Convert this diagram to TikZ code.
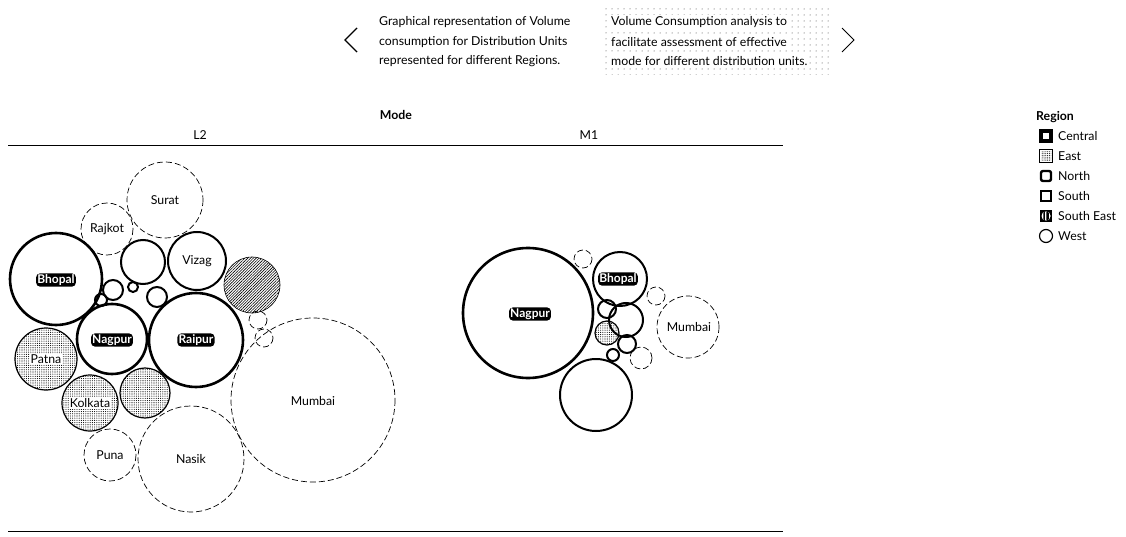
\documentclass[tikz,border=0pt]{standalone}
\usepackage{fontspec}
\setmainfont{Lato}
\usetikzlibrary{patterns,patterns.meta}
\begin{document}
\begin{tikzpicture}[x=1pt,y=-1pt,
  central/.style={draw=black,line width=2.6pt},
  northc/.style={draw=black,line width=2pt},
  westc/.style={draw=black,line width=0.7pt,dash pattern=on 6pt off 3pt},
  eastc/.style={draw=black,line width=1.2pt,pattern={Dots[distance=2.2pt,radius=0.55pt]},pattern color=black},
  seastc/.style={draw=black,line width=0.6pt,pattern={Lines[angle=45,distance=2pt,line width=0.6pt]},pattern color=black},
  lbl/.style={font=\fontsize{12.3}{14}\selectfont,inner sep=1pt},
  blbl/.style={font=\fontsize{12}{14}\selectfont\bfseries,text=white,fill=black,rounded corners=4pt,inner sep=1.2pt},
  txt/.style={font=\fontsize{12.3}{14}\selectfont,anchor=west,inner sep=0pt},
  hdr/.style={font=\fontsize{12.3}{14}\selectfont\bfseries,inner sep=0pt},
  chev/.style={line width=1.4pt,line join=miter},
  legsq/.style={draw=black,line width=2.4pt,minimum size=10pt,inner sep=0pt}]
\useasboundingbox (0,0) rectangle (1126,537);

% ---------- top texts ----------
\coordinate (p1) at (357,28); \coordinate (p2) at (345,40); \coordinate (p3) at (357,52);
\draw[chev] (p1) -- (p2) -- (p3);
\node[txt] (t1) at (379,22) {Graphical representation of Volume};
\node[txt] (t2) at (379,42) {consumption for Distribution Units};
\node[txt] (t3) at (379,61) {represented for different Regions.};
\fill[pattern={Dots[distance=6pt,radius=0.5pt]},pattern color=black!80] (603,6) rectangle (829,75);
\node[txt,fill=white,inner sep=1pt] (t4) at (610,22) {Volume Consumption analysis to};
\node[txt,fill=white,inner sep=1pt] (t5) at (610,42) {facilitate assessment of effective};
\node[txt,fill=white,inner sep=1pt] (t6) at (610,61) {mode for different distribution units.};
\coordinate (n1) at (842,28); \coordinate (n2) at (854,40); \coordinate (n3) at (842,52);
\draw[chev,line width=1pt] (n1) -- (n2) -- (n3);

% ---------- headers ----------
\node[hdr] (mode) at (396,115) {Mode};
\node[lbl] (l2) at (200,135) {L2};
\node[lbl] (m1) at (589,135) {M1};
\coordinate (ta) at (8,145); \coordinate (tb) at (783,145);
\coordinate (ba) at (8,531); \coordinate (bb) at (783,531);
\draw[line width=0.9pt] (ta) -- (tb);
\draw[line width=0.9pt] (ba) -- (bb);

% ---------- L2 cluster ----------
\draw[westc] (165,200) circle (38);
\draw[westc] (107,229) circle (26);
\draw[westc] (313,400) circle (82);
\draw[westc] (191,459) circle (53);
\draw[westc] (110,455) circle (26);
\draw[westc] (258,320) circle (9);
\draw[westc] (264,338) circle (9);
\draw[northc] (143,262) circle (22);
\draw[northc] (197,261) circle (29);
\draw[northc] (113,290) circle (10);
\draw[northc] (133,287) circle (5);
\draw[northc] (157,297) circle (10);
\draw[northc] (101,300) circle (6);
\draw[seastc] (252,285) circle (28);
\draw[eastc] (46,359) circle (31);
\draw[eastc] (90,403) circle (28);
\draw[eastc] (145,393) circle (25);
\draw[central] (56,279) circle (46);
\draw[central] (112,339) circle (35);
\draw[central] (196,340) circle (47);

\node[lbl] (surat) at (165,200) {Surat};
\node[lbl] (rajkot) at (107,229) {Rajkot};
\node[lbl] (vizag) at (197,261) {Vizag};
\node[lbl,fill=white] (patna) at (46,359) {Patna};
\node[lbl,fill=white] (kolkata) at (90,403) {Kolkata};
\node[lbl] (puna) at (110,455) {Puna};
\node[lbl] (nasik) at (191,459) {Nasik};
\node[lbl] (mumbai) at (313,401) {Mumbai};
\node[blbl] (bhopal) at (56,280) {Bhopal};
\node[blbl] (nagpur) at (112,340) {Nagpur};
\node[blbl] (raipur) at (196,340) {Raipur};

% ---------- M1 cluster ----------
\draw[westc] (688,327) circle (31);
\draw[westc] (583,259) circle (9);
\draw[westc] (656,296) circle (9);
\draw[westc] (641,358) circle (11);
\draw[northc] (620,279) circle (27);
\draw[northc] (596,395) circle (36);
\draw[northc] (626,320) circle (17);
\draw[northc] (607,309) circle (9);
\draw[northc] (627,344) circle (9);
\draw[northc] (613,355) circle (6);
\draw[eastc] (607,333) circle (12);
\draw[central] (528,313) circle (65);

\node[lbl] (mumbai2) at (689,327) {Mumbai};
\node[blbl] (bhopal2) at (618,279) {Bhopal};
\node[blbl] (nagpur2) at (530,314) {Nagpur};

% ---------- legend ----------
\node[hdr,anchor=west] (region) at (1036,117) {Region};
\node[legsq,line width=3.4pt] (k1) at (1046,136) {};
\node[legsq,draw=none,pattern={Dots[distance=1.8pt,radius=0.5pt]}] (k2) at (1046,156) {};
\draw[line width=1.2pt] (k2.south west) rectangle (k2.north east);
\node[legsq,rounded corners=2pt] (k3) at (1046,176) {};
\node[legsq] (k4) at (1046,196) {};
\node[minimum size=12pt,inner sep=0pt,fill=black] (k5) at (1046,216) {};
\fill[white] (k5.center) circle (4.6);
\fill[pattern={Lines[angle=90,distance=1.4pt,line width=0.6pt]},pattern color=black] (k5.center) circle (4.6);
\node[circle,draw=black,line width=1.2pt,minimum size=13pt,inner sep=0pt] (k6) at (1046,236) {};
\node[txt] (g1) at (1058,136) {Central};
\node[txt] (g2) at (1058,156) {East};
\node[txt] (g3) at (1058,176) {North};
\node[txt] (g4) at (1058,196) {South};
\node[txt] (g5) at (1058,216) {South East};
\node[txt] (g6) at (1058,236) {West};
\end{tikzpicture}
\end{document}
